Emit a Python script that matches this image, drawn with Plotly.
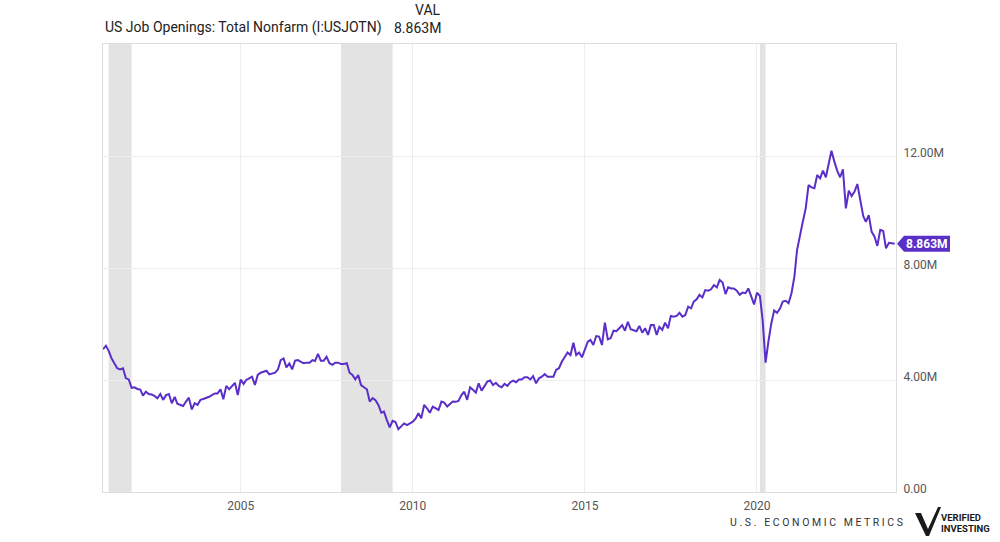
import pandas as pd
import plotly.graph_objects as go

# ---------------- data (millions) ----------------
start_month = "2001-01-01"
end_month = "2024-01-01"
v2001 = [5.10, 5.22, 5.05, 4.78, 4.60, 4.42, 4.38, 4.42, 4.06, 4.02, 3.72, 3.74]
v2002 = [3.68, 3.66, 3.44, 3.58, 3.50, 3.48, 3.43, 3.35, 3.50, 3.29, 3.46, 3.50]
v2003 = [3.17, 3.40, 3.15, 3.11, 3.07, 3.23, 3.37, 2.95, 3.17, 3.11, 3.29, 3.32]
v2004 = [3.35, 3.40, 3.46, 3.52, 3.52, 3.67, 3.31, 3.79, 3.67, 3.78, 3.90, 3.46]
v2005 = [4.02, 3.86, 4.00, 4.06, 4.12, 3.82, 4.18, 4.26, 4.30, 4.33, 4.20, 4.24]
v2006 = [4.26, 4.38, 4.71, 4.77, 4.45, 4.59, 4.38, 4.69, 4.71, 4.65, 4.60, 4.62]
v2007 = [4.62, 4.71, 4.68, 4.93, 4.69, 4.69, 4.83, 4.60, 4.54, 4.62, 4.62, 4.57]
v2008 = [4.57, 4.60, 4.26, 4.18, 4.02, 4.18, 3.82, 3.74, 3.67, 3.23, 3.35, 3.28]
v2009 = [3.11, 2.83, 2.87, 2.57, 2.31, 2.54, 2.50, 2.24, 2.36, 2.45, 2.39, 2.45]
v2010 = [2.51, 2.63, 2.81, 2.63, 3.11, 2.99, 2.83, 3.05, 2.98, 2.93, 3.23, 3.19]
v2011 = [3.05, 3.15, 3.23, 3.22, 3.25, 3.46, 3.58, 3.29, 3.74, 3.65, 3.55, 3.88]
v2012 = [3.62, 3.78, 3.94, 3.98, 3.82, 3.90, 3.79, 3.74, 3.86, 3.79, 3.92, 3.98]
v2013 = [3.92, 4.02, 4.02, 4.10, 4.10, 4.02, 4.14, 3.88, 4.06, 4.12, 4.21, 4.12]
v2014 = [4.12, 4.12, 4.36, 4.42, 4.65, 4.83, 4.98, 4.89, 5.33, 4.89, 4.98, 4.81]
v2015 = [5.13, 5.37, 5.43, 5.25, 5.57, 5.55, 5.25, 6.05, 5.45, 5.49, 5.76, 5.74]
v2016 = [5.85, 5.96, 5.76, 6.08, 5.81, 5.76, 5.74, 5.93, 5.69, 5.85, 5.61, 5.96]
v2017 = [5.96, 5.61, 5.90, 5.79, 6.05, 5.85, 6.29, 6.26, 6.29, 6.40, 6.26, 6.32]
v2018 = [6.62, 6.56, 6.80, 6.88, 7.04, 6.95, 7.21, 7.19, 7.24, 7.39, 7.31, 7.57]
v2019 = [7.48, 7.07, 7.31, 7.27, 7.27, 7.19, 7.04, 7.12, 7.10, 7.27, 6.98, 6.70]
v2020 = [7.12, 7.00, 6.14, 4.62, 5.37, 6.02, 6.48, 6.40, 6.55, 6.80, 6.83, 6.74]
v2021 = [7.10, 7.69, 8.64, 9.20, 9.65, 10.13, 10.96, 10.88, 10.85, 11.32, 11.20, 11.48]
v2022 = [11.24, 11.74, 12.19, 11.80, 11.48, 11.24, 11.52, 10.13, 10.76, 10.57, 10.73, 11.00]
v2023 = [10.43, 9.86, 9.65, 9.89, 9.30, 9.12, 8.79, 9.36, 9.32, 8.70, 8.90, 8.88]
v2024 = [8.863]

values = (v2001 + v2002 + v2003 + v2004 + v2005 + v2006 + v2007 + v2008 + v2009 + v2010
          + v2011 + v2012 + v2013 + v2014 + v2015 + v2016 + v2017 + v2018 + v2019
          + v2020 + v2021 + v2022 + v2023 + v2024)
dates = pd.date_range(start_month, end_month, freq="MS")

recession_starts = ["2001-03-01", "2007-12-01", "2020-02-01"]
recession_ends = ["2001-11-01", "2009-06-01", "2020-04-01"]

y_tickvals = [0, 4, 8, 12]
y_ticktext = ["0.00", "4.00M", "8.00M", "12.00M"]

series_name = "US Job Openings: Total Nonfarm (I:USJOTN)"
last_label = f"{values[-1]:.3f}M"

# ---------------- styling ----------------
LINE = "#5a2fc8"
FONT = "Roboto"
L, R, T, B = 103, 104, 44, 50
W, H = 1000, 542
PW, PH = W - L - R, H - T - B


def px(xpix):
    return (xpix - L) / PW


def py(ypix):
    return (H - B - ypix) / PH


fig = go.Figure()
fig.add_trace(go.Scatter(x=dates, y=values, mode="lines",
                         line=dict(color=LINE, width=2), hoverinfo="skip",
                         showlegend=False))

shapes = []
for s, e in zip(recession_starts, recession_ends):
    shapes.append(dict(type="rect", xref="x", yref="paper", x0=s, x1=e, y0=0, y1=1,
                       fillcolor="#e3e3e3", line=dict(width=0), layer="below"))

# price tag for last value
shapes.append(dict(type="path", xref="paper", yref="y", xsizemode="pixel", ysizemode="pixel",
                   xanchor=1, yanchor=values[-1],
                   path="M 1,0 L 8,8 L 54,8 L 54,-8 L 8,-8 Z",
                   fillcolor=LINE, line=dict(width=0), layer="above"))

# logo glyph (V with check)
vpts = [(915, 513), (921, 513), (928, 529), (938, 507), (941, 507), (929, 536), (926, 536)]
vpath = "M " + " L ".join(f"{px(a):.5f},{py(b):.5f}" for a, b in vpts) + " Z"
shapes.append(dict(type="path", xref="paper", yref="paper", path=vpath,
                   fillcolor="#1a1a1a", line=dict(width=0)))

annotations = [
    dict(xref="paper", yref="paper", x=0, y=py(28), text=series_name, showarrow=False,
         xanchor="left", yanchor="middle", font=dict(family=FONT, size=14, color="#222")),
    dict(xref="paper", yref="paper", x=px(443), y=py(28), text=last_label, showarrow=False,
         xanchor="right", yanchor="middle", font=dict(family=FONT, size=14, color="#222")),
    dict(xref="paper", yref="paper", x=px(443), y=py(10), text="VAL", showarrow=False,
         xanchor="right", yanchor="middle", font=dict(family=FONT, size=14, color="#222")),
    dict(xref="paper", yref="y", x=1, y=values[-1], xshift=31, text=f"<b>{last_label}</b>",
         showarrow=False, xanchor="center", yanchor="middle",
         font=dict(family=FONT, size=12, color="white")),
    dict(xref="paper", yref="paper", x=px(905), y=py(522),
         text="U . S .   E C O N O M I C   M E T R I C S", showarrow=False,
         xanchor="right", yanchor="middle", font=dict(family=FONT, size=10.5, color="#333")),
    dict(xref="paper", yref="paper", x=px(939), y=py(517), text="<b>VERIFIED</b>",
         showarrow=False, xanchor="left", yanchor="middle",
         font=dict(family=FONT, size=9.5, color="#1a1a1a")),
    dict(xref="paper", yref="paper", x=px(939), y=py(528), text="<b>INVESTING</b>",
         showarrow=False, xanchor="left", yanchor="middle",
         font=dict(family=FONT, size=9.5, color="#1a1a1a")),
]

fig.update_layout(
    width=W, height=H, margin=dict(l=L, r=R, t=T, b=B),
    paper_bgcolor="white", plot_bgcolor="white",
    font=dict(family=FONT, size=12, color="#555"),
    shapes=shapes, annotations=annotations,
    xaxis=dict(type="date", range=["2001-01-01", "2024-01-15"], dtick="M60",
               tick0="2000-01-01", tickformat="%Y", showgrid=True, gridcolor="#eeeeee",
               showline=True, mirror=True, linecolor="#dddddd", zeroline=False,
               ticks="", tickfont=dict(family=FONT, size=12, color="#555"),
               ticklabelstandoff=3),
    yaxis=dict(side="right", range=[0, 16], tickvals=y_tickvals, ticktext=y_ticktext,
               showgrid=True, gridcolor="#eeeeee", showline=True, mirror=True,
               linecolor="#dddddd", zeroline=False, ticks="",
               tickfont=dict(family=FONT, size=12, color="#555"),
               ticklabelstandoff=4, ticklabelshift=-3),
)

fig.write_html("out.html", config={"displayModeBar": False},
               post_script="document.body.style.margin='0';document.body.style.padding='0';"
                           "document.documentElement.style.overflow='hidden';")
